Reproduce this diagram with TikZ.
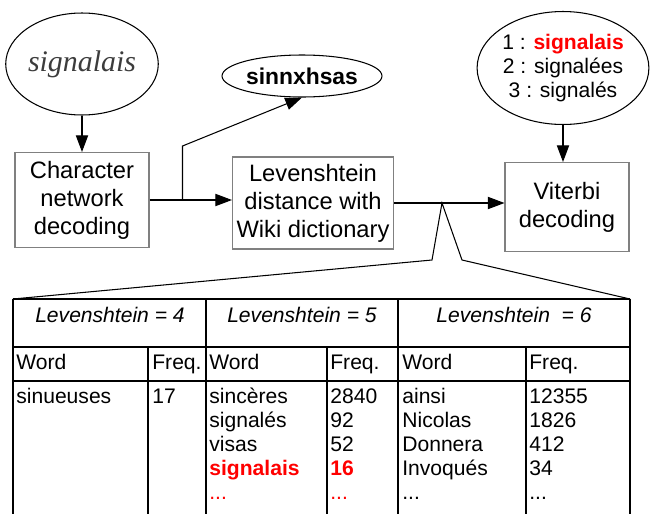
\documentclass[tikz,border=0pt]{standalone}
\usepackage{fontspec}
\setmainfont{Liberation Sans}
\newfontfamily\handfont{Liberation Serif}
\usetikzlibrary{arrows.meta,shapes.geometric,calc}
\definecolor{hitred}{RGB}{255,0,0}
\definecolor{boxgray}{RGB}{128,128,128}
\definecolor{inkgray}{RGB}{60,60,60}
\tikzset{
  stage/.style={draw=boxgray, line width=0.6pt, align=center, inner sep=0pt,
    font=\fontsize{13.5}{16}\selectfont},
  bubble/.style={draw, ellipse, line width=0.6pt, inner sep=0pt, align=center},
  flow/.style={line width=0.6pt, -{Triangle[length=9.5pt,width=7pt]}},
  cell/.style={anchor=base west, inner sep=0pt, font=\fontsize{12}{13.6}\selectfont},
  rule/.style={line width=0.6pt},
}

\begin{document}
\begin{tikzpicture}[x=0.02cm,y=-0.02cm]
			%%%%% START %%%%%
			\useasboundingbox (0,0) rectangle (650,514);
			
			% flow at the top
			\node[bubble, minimum width=2.8cm, minimum height=2.04cm] (scan) at (82,64)
			  {\handfont\itshape\fontsize{17}{17}\selectfont\color{inkgray}signalais};
			\node[stage, minimum width=2.68cm, minimum height=1.9cm] (charnet) at (82,200)
			  {Character\\network\\decoding};
			\node[stage, minimum width=3.22cm, minimum height=1.84cm] (leven) at (313,203)
			  {Levenshtein\\distance with\\Wiki dictionary};
			\node[stage, minimum width=2.48cm, minimum height=1.78cm] (viterbi) at (567,207)
			  {Viterbi\\decoding};
			\node[bubble, minimum width=3.2cm, minimum height=0.84cm,
			  font=\fontsize{13}{15}\selectfont\bfseries] (raw) at (302,76) {sinnxhsas};
			\node[bubble, minimum width=3.08cm, minimum height=2.26cm,
			  font=\fontsize{12}{13.6}\selectfont] (best) at (563,68)
			  {1 : \textcolor{hitred}{\textbf{signalais}}\\2 : signalées\\3 : signalés};
			
			\draw[flow] (scan.south) -- (scan.south |- charnet.north);
			\draw[flow] (charnet.east) -- (charnet.east -| leven.west);
			\coordinate (split) at ($(charnet.east)!0.4!(charnet.east -| leven.west)$);
			\draw[flow] (split) -- ++(0,-54) -- (raw.south);
			\draw[flow] (leven.east |- 0,203) -- (viterbi.west |- 0,203);
			\draw[flow] (best.south) -- (best.south |- viterbi.north);
			
			% zoom onto the candidates
			\coordinate (apex) at (442,203);
			\draw[rule] (13,299) -- (432,260) -- (apex) -- (462,260) -- (630,299);
			
			% table
			\draw[rule] (13,299) -- (630,299);
			\draw[rule] (13,347) -- (630,347);
			\draw[rule] (13,381) -- (630,381);
			\foreach \x in {13,206,398,630}
			  \draw[rule] (\x,299) -- (\x,514);
			\foreach \x in {148,327,526}
			  \draw[rule] (\x,347) -- (\x,514);
			
			\node[cell, anchor=base, font=\fontsize{12}{13.6}\selectfont\itshape] (h4) at (110,322) {Levenshtein = 4};
			\node[cell, anchor=base, font=\fontsize{12}{13.6}\selectfont\itshape] (h5) at (302,322) {Levenshtein = 5};
			\node[cell, anchor=base, font=\fontsize{12}{13.6}\selectfont\itshape] (h6) at (514,322) {Levenshtein ~= 6};
			
			\foreach \x/\t [count=\i] in {16/Word,152/Freq.,209/Word,330/Freq.,402/Word,529/Freq.}
			  \node[cell] (col\i) at (\x,369) {\t};
			
			\node[cell] (w4-0) at (16,403) {sinueuses};
			\node[cell] (f4-0) at (152,403) {17};
			
			\foreach \w/\f [count=\i from 0] in {sincères/2840,signalés/92,visas/52}{
			  \node[cell] (w5-\i) at (209,403+24*\i) {\w};
			  \node[cell] (f5-\i) at (330,403+24*\i) {\f};
			}
			\node[cell, text=hitred, font=\fontsize{12}{13.6}\selectfont\bfseries] (w5-3) at (209,475) {signalais};
			\node[cell, text=hitred, font=\fontsize{12}{13.6}\selectfont\bfseries] (f5-3) at (330,475) {16};
			\node[cell, text=hitred] (w5-4) at (209,499) {...};
			\node[cell, text=hitred] (f5-4) at (330,499) {...};
			
			\foreach \w/\f [count=\i from 0] in {ainsi/12355,Nicolas/1826,Donnera/412,Invoqués/34}{
			  \node[cell] (w6-\i) at (402,403+24*\i) {\w};
			  \node[cell] (f6-\i) at (529,403+24*\i) {\f};
			}
			\node[cell] (w6-4) at (402,499) {...};
			\node[cell] (f6-4) at (529,499) {...};
			%%%%% END %%%%%
\end{tikzpicture}
\end{document}
